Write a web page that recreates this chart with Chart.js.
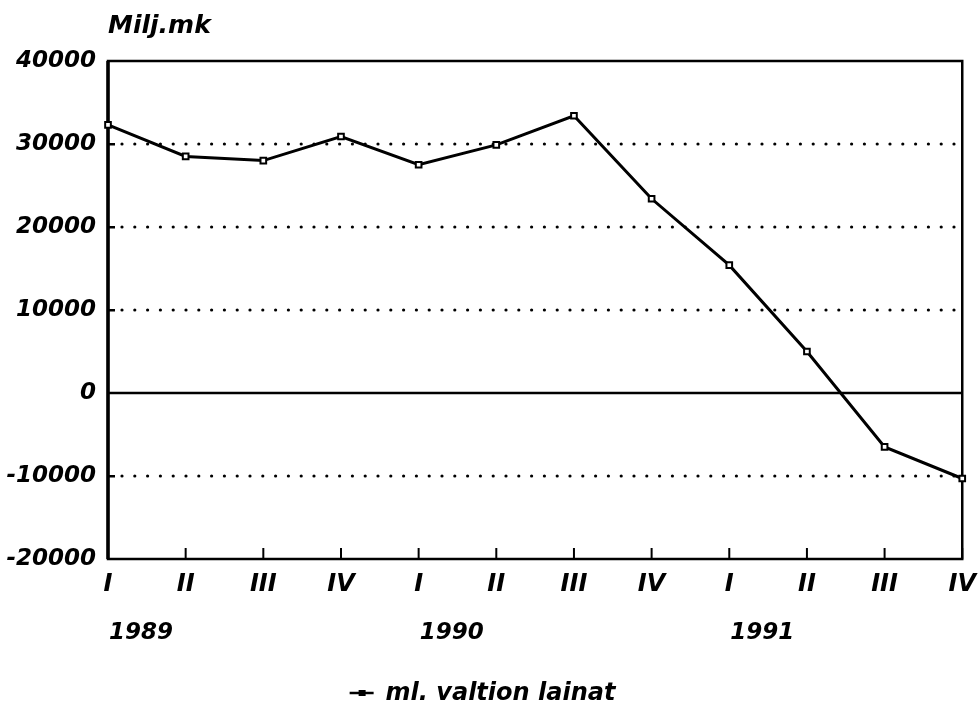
<!DOCTYPE html>
<html>
<head>
<meta charset="utf-8">
<script src="https://cdn.jsdelivr.net/npm/chart.js@4/dist/chart.umd.min.js"></script>
<style>
  html, body { margin: 0; padding: 0; background: #fff; }
  #wrap { width: 979px; height: 706px; }
</style>
</head>
<body>
<div id="wrap"><canvas id="chart" width="979" height="706"></canvas></div>
<script>
const quarters = ['I', 'II', 'III', 'IV', 'I', 'II', 'III', 'IV', 'I', 'II', 'III', 'IV'];
const years = ['1989', '1990', '1991'];
const yearStart = [0, 4, 8];
const values = [32300, 28500, 28000, 30900, 27500, 29900, 33400, 23400, 15400, 5000, -6500, -10300];
const yTicks = [-20000, -10000, 0, 10000, 20000, 30000, 40000];
const seriesLabel = 'ml. valtion lainat';
const unitLabel = 'Milj.mk';

const FONT = '"DejaVu Sans", sans-serif';

// legend marker: short line with a small square
function legendMarker() {
    const c = document.createElement('canvas');
    c.width = 26; c.height = 10;
    const g = c.getContext('2d');
    g.strokeStyle = '#000'; g.lineWidth = 2.5;
    g.beginPath(); g.moveTo(1, 4); g.lineTo(25, 4); g.stroke();
    g.fillStyle = '#000'; g.fillRect(10, 1, 7, 6);
    return c;
}

const decorations = {
    id: 'decorations',
    beforeDatasetsDraw(chart) {
        const { ctx, chartArea: a, scales: { x, y } } = chart;
        ctx.save();
        // dotted grid lines
        ctx.fillStyle = '#000';
        yTicks.forEach((v) => {
            if (v === 0 || v === yTicks[0] || v === yTicks[yTicks.length - 1]) return;
            const py = y.getPixelForValue(v);
            for (let px = a.left + 14; px < a.right - 4; px += 12.8) {
                ctx.beginPath();
                ctx.arc(px, py, 1.6, 0, Math.PI * 2);
                ctx.fill();
            }
            ctx.fillRect(a.left, py - 1, 7, 2.5);
        });
        // zero line
        ctx.strokeStyle = '#000';
        ctx.lineWidth = 2.5;
        const y0 = y.getPixelForValue(0);
        ctx.beginPath(); ctx.moveTo(a.left, y0); ctx.lineTo(a.right, y0); ctx.stroke();
        // bottom tick marks
        ctx.lineWidth = 2;
        quarters.forEach((q, i) => {
            const px = x.getPixelForValue(i);
            ctx.beginPath(); ctx.moveTo(px, a.bottom); ctx.lineTo(px, a.bottom - 11); ctx.stroke();
        });
        // frame
        ctx.lineWidth = 2.5;
        ctx.strokeRect(a.left, a.top, a.right - a.left, a.bottom - a.top);
        ctx.lineWidth = 3.5;
        ctx.beginPath(); ctx.moveTo(a.left, a.top); ctx.lineTo(a.left, a.bottom); ctx.stroke();
        ctx.restore();
    },
    afterDraw(chart) {
        const { ctx, chartArea: a, scales: { x } } = chart;
        ctx.save();
        ctx.fillStyle = '#000';
        ctx.font = 'italic bold 23px ' + FONT;
        ctx.textBaseline = 'middle';
        ctx.textAlign = 'left';
        years.forEach((yr, i) => {
            ctx.fillText(yr, x.getPixelForValue(yearStart[i]) + 1, a.bottom + 74);
        });
        ctx.font = 'italic bold 25px ' + FONT;
        ctx.fillText(unitLabel, a.left, a.top - 35);
        ctx.restore();
    }
};

new Chart(document.getElementById('chart'), {
    type: 'line',
    data: {
        labels: quarters,
        datasets: [{
            label: seriesLabel,
            data: values,
            borderColor: '#000',
            borderWidth: 3,
            tension: 0,
            pointStyle: 'rect',
            pointRadius: 4,
            pointBackgroundColor: '#fff',
            pointBorderColor: '#000',
            pointBorderWidth: 2,
            fill: false,
        }],
    },
    options: {
        responsive: false,
        animation: false,
        layout: { padding: { left: 0, right: 14, top: 61, bottom: -10 } },
        plugins: {
            legend: {
                position: 'bottom',
                labels: {
                    usePointStyle: true,
                    pointStyle: legendMarker(),
                    color: '#000',
                    font: { family: FONT, size: 24, style: 'italic', weight: 'bold' },
                    padding: 4,
                },
            },
            tooltip: { enabled: false },
        },
        scales: {
            x: {
                offset: false,
                grid: { display: false },
                border: { display: false },
                ticks: {
                    color: '#000',
                    maxRotation: 0,
                    autoSkip: false,
                    padding: 3,
                    font: { family: FONT, size: 24, style: 'italic', weight: 'bold' },
                },
                afterFit(scale) { scale.height = 119; },
            },
            y: {
                min: -20000,
                max: 40000,
                grid: { display: false },
                border: { display: false },
                afterBuildTicks(scale) { scale.ticks = yTicks.map((v) => ({ value: v })); },
                ticks: {
                    color: '#000',
                    padding: 4,
                    callback: (v) => String(v),
                    font: { family: FONT, size: 23, style: 'italic', weight: 'bold' },
                },
                afterFit(scale) { scale.width = 108; },
            },
        },
    },
    plugins: [decorations],
});
</script>
</body>
</html>
